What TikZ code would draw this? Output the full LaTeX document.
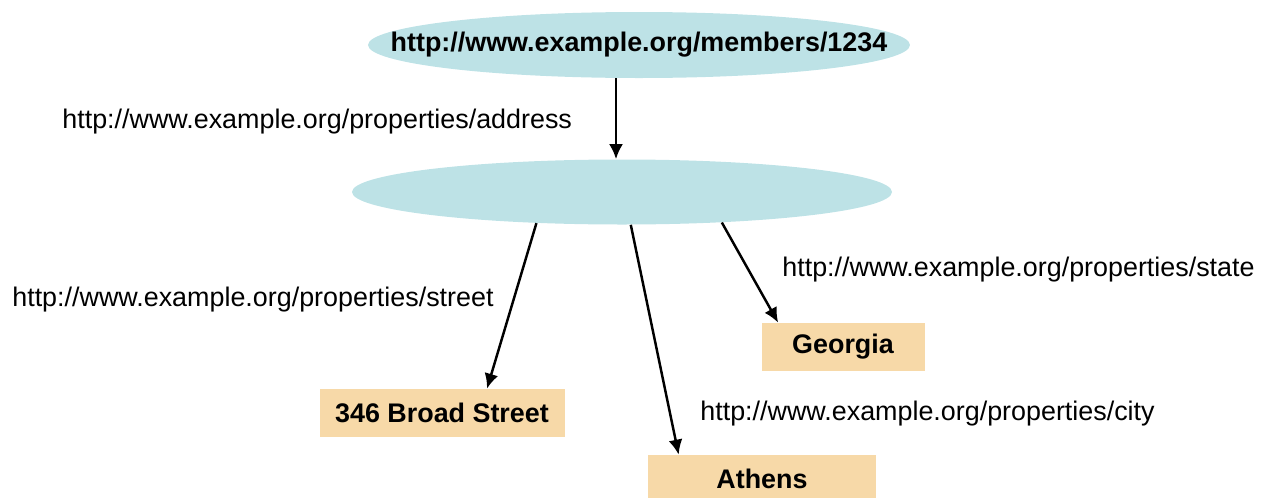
\documentclass[tikz,border=0pt]{standalone}
\usepackage{fontspec}
\setmainfont{Liberation Sans}
\usetikzlibrary{shapes.geometric, arrows.meta}

\definecolor{resfill}{HTML}{BDE2E6}
\definecolor{litfill}{HTML}{F7D9A8}

\tikzset{
	res/.style = {ellipse, fill=resfill, inner sep=0pt},
	lit/.style = {fill=litfill, inner sep=0pt, minimum height=0.96cm,
		font=\fontsize{15.3}{18}\selectfont\bfseries},
	prop/.style = {anchor=west, inner sep=0pt, font=\fontsize{15.3}{18}\selectfont},
	arc/.style = {line width=1.4pt, -{Latex[length=3mm, width=2.8mm]}}
}

\begin{document}
\begin{tikzpicture}[x = 0.2mm, y = -0.2mm]

	\useasboundingbox (0,0) rectangle (1263,497);

	\node[res, inner xsep=-1.15cm, minimum width=10.84cm, minimum height=1.32cm,
		font=\fontsize{15.3}{18}\selectfont\bfseries] (member) at (639,45)
		{http://www.example.org/members/1234};
	\node[res, minimum width=10.8cm, minimum height=1.3cm] (blank) at (622,192) {};

	\node[lit, minimum width=4.9cm] (street) at (442,413) {346 Broad Street};
	\node[lit, minimum width=4.56cm] (city) at (762,479) {Athens};
	\node[lit, minimum width=3.26cm] (state) at (843,347) {Georgia};

	\node[prop] (address-p) at (62,122) {http://www.example.org/properties/address};
	\node[prop] (street-p) at (12,300) {http://www.example.org/properties/street};
	\node[prop] (city-p) at (700,414) {http://www.example.org/properties/city};
	\node[prop] (state-p) at (782,270) {http://www.example.org/properties/state};

	\draw[arc] ([xshift=-1.2mm]member.south -| blank.north) -- ([xshift=-1.2mm]blank.north);
	\draw[arc] (blank.200) -- ([xshift=9mm]street.north);
	\draw[arc] (blank.285) -- ([xshift=6.2mm]city.north west);
	\draw[arc] (blank.343) -- ([xshift=3.4mm]state.north west);

\end{tikzpicture}
\end{document}
